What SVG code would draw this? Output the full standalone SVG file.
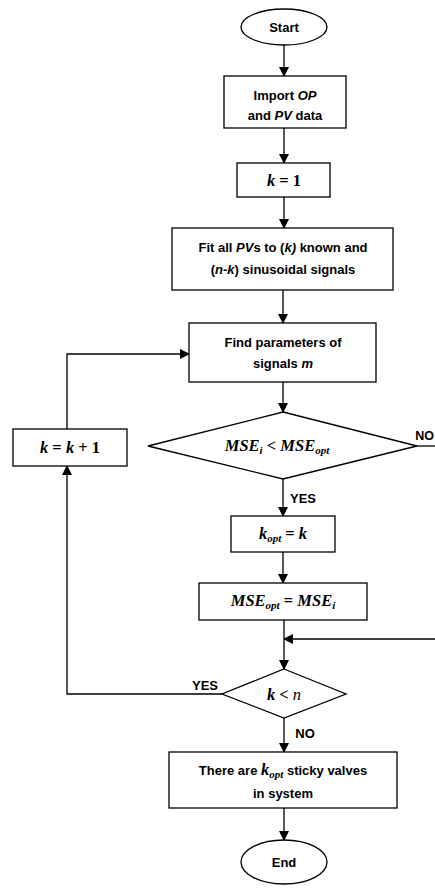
<svg xmlns="http://www.w3.org/2000/svg" width="435" height="888" viewBox="0 0 435 888">
<defs>
<marker id="ah" markerWidth="10" markerHeight="10" refX="9" refY="5" orient="auto" markerUnits="userSpaceOnUse">
<path d="M0,0 L10,5 L0,10 Z" fill="#000"/>
</marker>
<style>
.s{fill:#fff;stroke:#000;stroke-width:1.3}
.c{fill:none;stroke:#000;stroke-width:1.3}
.t{font-family:"Liberation Sans",Arial,sans-serif;font-weight:bold;font-size:13px;fill:#000;text-anchor:middle}
.m{font-family:"Liberation Serif","Times New Roman",serif;font-weight:bold;font-style:italic;font-size:16.5px;fill:#000;text-anchor:middle}
.u{font-style:normal}
.sb{font-size:11px}
</style>
</defs>
<rect width="435" height="888" fill="#fff"/>
<g id="connectors">
<line class="c" x1="284" y1="45" x2="284" y2="76" marker-end="url(#ah)"/>
<line class="c" x1="284" y1="128" x2="284" y2="163" marker-end="url(#ah)"/>
<line class="c" x1="284" y1="197" x2="284" y2="228" marker-end="url(#ah)"/>
<line class="c" x1="283" y1="290" x2="283" y2="323" marker-end="url(#ah)"/>
<line class="c" x1="283" y1="382" x2="283" y2="412" marker-end="url(#ah)"/>
<polyline class="c" points="67,429 67,354 189,354" marker-end="url(#ah)"/>
<line class="c" x1="417" y1="446" x2="435" y2="446"/>
<line class="c" x1="283" y1="479" x2="283" y2="516" marker-end="url(#ah)"/>
<line class="c" x1="283" y1="552" x2="283" y2="583" marker-end="url(#ah)"/>
<line class="c" x1="284" y1="620" x2="284" y2="669" marker-end="url(#ah)"/>
<line class="c" x1="435" y1="639" x2="284" y2="639" marker-end="url(#ah)"/>
<polyline class="c" points="222,694 67,694 67,466" marker-end="url(#ah)"/>
<line class="c" x1="284" y1="718" x2="284" y2="752" marker-end="url(#ah)"/>
<line class="c" x1="284" y1="808" x2="284" y2="840" marker-end="url(#ah)"/>
<text class="t" x="434" y="440" style="text-anchor:end;font-size:12.5px">NO</text>
<text class="t" x="303" y="503">YES</text>
<text class="t" x="205" y="690">YES</text>
<text class="t" x="305" y="738">NO</text>
</g>
<g id="start">
<ellipse class="s" cx="284" cy="27" rx="43" ry="18"/>
<text class="t" x="284" y="32">Start</text>
</g>
<g id="import">
<rect class="s" x="224" y="76" width="122" height="52"/>
<text class="t" x="285" y="100">Import <tspan font-style="italic">OP</tspan></text>
<text class="t" x="285" y="120">and <tspan font-style="italic">PV</tspan> data</text>
</g>
<g id="k1">
<rect class="s" x="237" y="163" width="93" height="34"/>
<text class="m" x="284" y="186">k <tspan class="u">= 1</tspan></text>
</g>
<g id="fit">
<rect class="s" x="172" y="228" width="221" height="62"/>
<text class="t" x="283" y="252">Fit all <tspan font-style="italic">PV</tspan>s to (<tspan font-style="italic">k)</tspan> known and</text>
<text class="t" x="283" y="274">(<tspan font-style="italic">n-k</tspan>) sinusoidal signals</text>
</g>
<g id="find">
<rect class="s" x="189" y="323" width="187" height="59"/>
<text class="t" x="283" y="347">Find parameters of</text>
<text class="t" x="283" y="368">signals <tspan font-style="italic">m</tspan></text>
</g>
<g id="dec1">
<polygon class="s" points="283,412 417,446 283,479 148,446"/>
<text class="m" x="277" y="451">MSE<tspan class="sb" dy="3">i</tspan><tspan dy="-3" class="u"> &lt; </tspan>MSE<tspan class="sb" dy="3">opt</tspan></text>
</g>
<g id="kinc">
<rect class="s" x="13" y="429" width="114" height="37"/>
<text class="m" x="70" y="453">k <tspan class="u">= </tspan>k<tspan class="u"> + 1</tspan></text>
</g>
<g id="kopt">
<rect class="s" x="231" y="516" width="104" height="36"/>
<text class="m" x="283" y="539">k<tspan class="sb" dy="3">opt</tspan><tspan class="u" dy="-3"> = </tspan>k</text>
</g>
<g id="mseopt">
<rect class="s" x="199" y="583" width="168" height="37"/>
<text class="m" x="283" y="606">MSE<tspan class="sb" dy="3">opt</tspan><tspan class="u" dy="-3"> = </tspan>MSE<tspan class="sb" dy="3">i</tspan></text>
</g>
<g id="dec2">
<polygon class="s" points="284,669 346,694 284,718 222,694"/>
<text class="m" x="284" y="700">k <tspan class="u">&lt; </tspan><tspan font-weight="normal">n</tspan></text>
</g>
<g id="result">
<rect class="s" x="169" y="752" width="228" height="56"/>
<text class="t" x="283" y="775">There are <tspan font-family="Liberation Serif" font-style="italic" font-size="16.5px">k</tspan><tspan font-family="Liberation Serif" font-style="italic" font-size="11px" dy="3">opt</tspan><tspan dy="-3"> sticky valves</tspan></text>
<text class="t" x="283" y="798">in system</text>
</g>
<g id="end">
<ellipse class="s" cx="284" cy="862" rx="43" ry="22"/>
<text class="t" x="284" y="867">End</text>
</g>
</svg>
